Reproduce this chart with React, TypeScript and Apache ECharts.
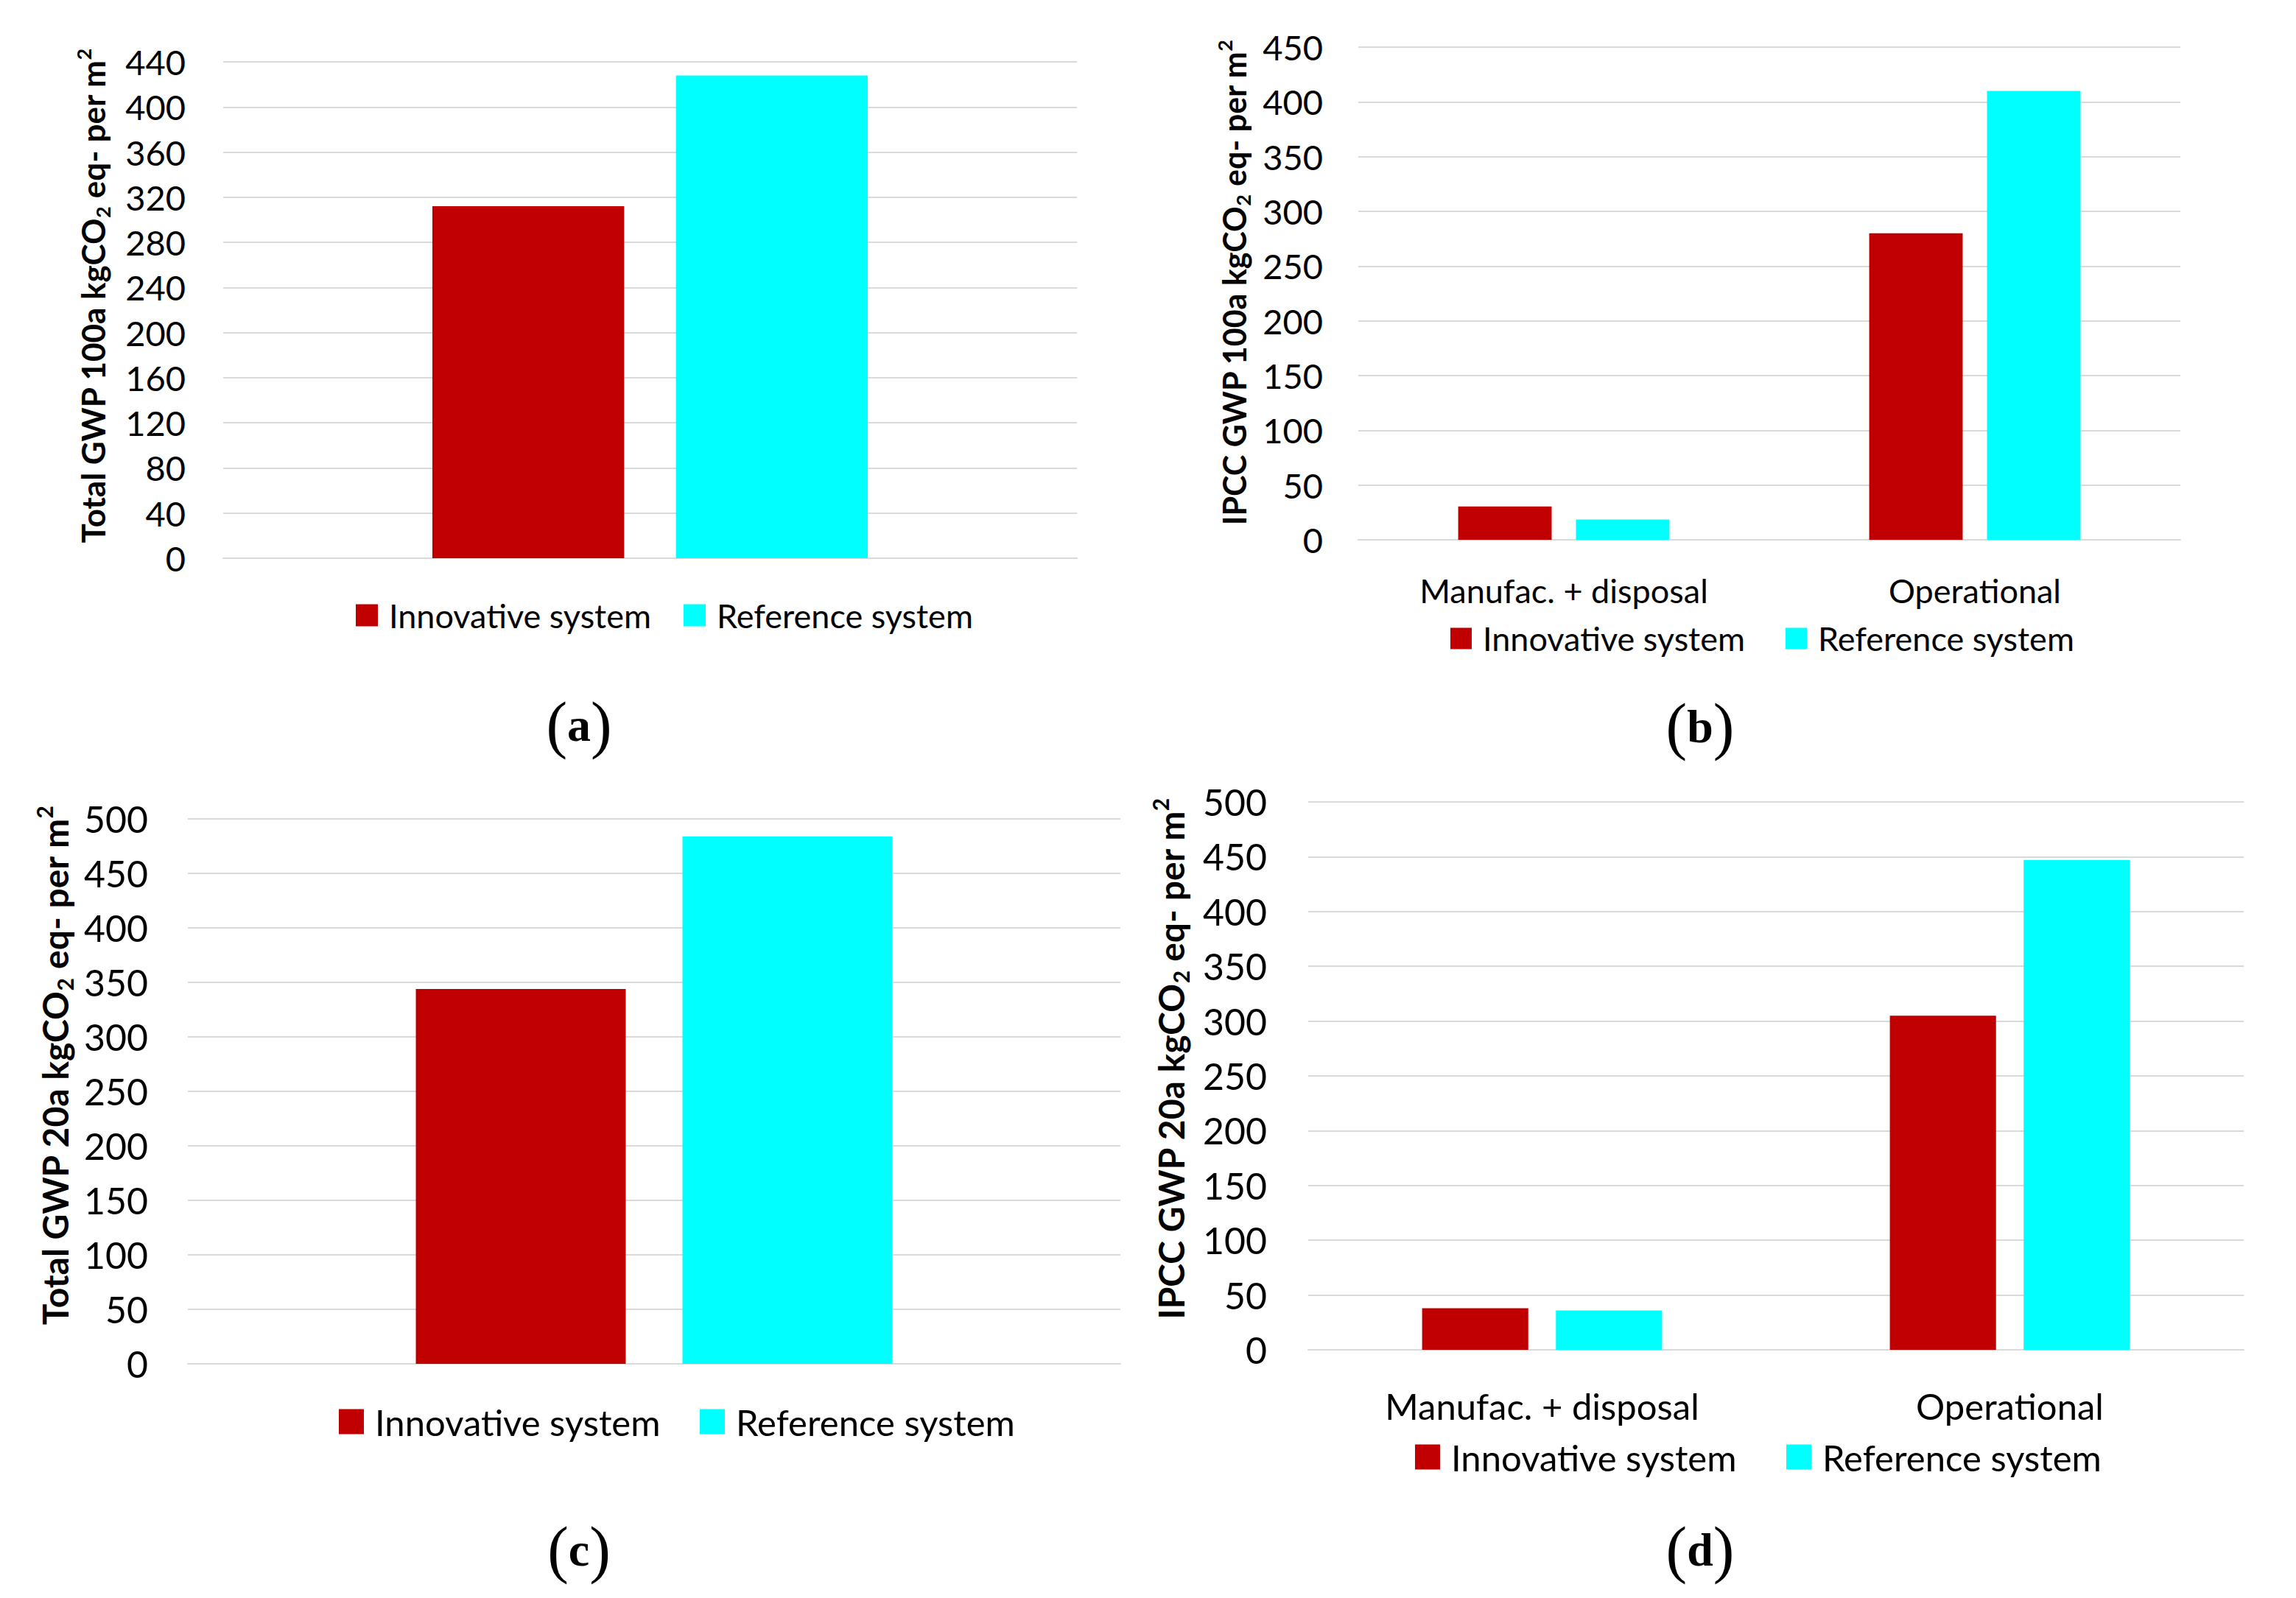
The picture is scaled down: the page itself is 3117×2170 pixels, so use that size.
import React, { useEffect, useRef } from 'react';
import * as echarts from 'echarts';

// ---------- data ----------
const seriesNames = ['Innovative system', 'Reference system'];
const seriesColors = ['#C00000', '#00FFFF'];
const totalCategories = [''];
const stageCategories = ['Manufac. + disposal', 'Operational'];

const totalGwp100Innovative = [312];
const totalGwp100Reference = [428];
const ipccGwp100Innovative = [30.5, 280];
const ipccGwp100Reference = [18.5, 410];
const totalGwp20Innovative = [344];
const totalGwp20Reference = [484];
const ipccGwp20Innovative = [38, 305];
const ipccGwp20Reference = [36, 447];

const axisMax = [440, 450, 500, 500];
const axisInterval = [40, 50, 50, 50];
const titlePrefixes = ['Total GWP 100a', 'IPCC GWP 100a', 'Total GWP 20a', 'IPCC GWP 20a'];
const panelLetters = ['a', 'b', 'c', 'd'];

// ---------- layout ----------
const panels = [
  {
    cats: totalCategories, inno: totalGwp100Innovative, ref: totalGwp100Reference,
    grid: { left: 303, top: 84, width: 1159, height: 674 },
    catGap: '49%', barGap: '27%', tickFont: 47, tickMargin: 51, catFont: 45, catMargin: 46,
    title: { x: 126, y: 402, size: 44 },
    legend: { y: 828, left: [483, 928], icon: 30, font: 45 },
    letter: { x: 786, y: 984 },
  },
  {
    cats: stageCategories, inno: ipccGwp100Innovative, ref: ipccGwp100Reference,
    grid: { left: 1844, top: 64, width: 1116, height: 669 },
    catGap: '48.6%', barGap: '26%', tickFont: 47, tickMargin: 48, catFont: 45, catMargin: 46,
    title: { x: 1675, y: 384, size: 43 },
    legend: { y: 859, left: [1969, 2424], icon: 29, font: 45 },
    letter: { x: 2308, y: 986 },
  },
  {
    cats: totalCategories, inno: totalGwp20Innovative, ref: totalGwp20Reference,
    grid: { left: 255, top: 1112, width: 1266, height: 740 },
    catGap: '48.9%', barGap: '27%', tickFont: 50, tickMargin: 54, catFont: 49, catMargin: 50,
    title: { x: 74, y: 1447, size: 48 },
    legend: { y: 1923, left: [460, 950], icon: 34, font: 49 },
    letter: { x: 786, y: 2104 },
  },
  {
    cats: stageCategories, inno: ipccGwp20Innovative, ref: ipccGwp20Reference,
    grid: { left: 1776, top: 1089, width: 1270, height: 744 },
    catGap: '48.7%', barGap: '26%', tickFont: 50, tickMargin: 56, catFont: 49, catMargin: 51,
    title: { x: 1589, y: 1438, size: 48 },
    legend: { y: 1971, left: [1921, 2425], icon: 34, font: 49 },
    letter: { x: 2308, y: 2104 },
  },
];

const GRID_COLOR = '#d9d9d9';
const SANS = 'Lato, "Open Sans", sans-serif';
const TITLE_FONT = 'Lato, "Open Sans", sans-serif';
const SERIF = '"Liberation Serif", "DejaVu Serif", serif';

export default function App() {
  const ref = useRef<HTMLDivElement>(null);

  useEffect(() => {
    document.body.style.margin = '0';
    document.body.style.overflow = 'hidden';
    const chart = echarts.init(ref.current!, null, { renderer: 'svg' });

    const grids = panels.map((p) => ({ ...p.grid, containLabel: false }));

    const xAxes = panels.map((p, i) => ({
      type: 'category',
      gridIndex: i,
      data: p.cats,
      axisLine: { show: true, lineStyle: { color: GRID_COLOR, width: 2 } },
      axisTick: { show: false },
      axisLabel: {
        show: p.cats.length > 1,
        fontFamily: SANS,
        fontSize: p.catFont,
        lineHeight: p.catFont,
        color: '#000',
        margin: p.catMargin,
        interval: 0,
      },
    }));

    const yAxes = panels.map((p, i) => ({
      type: 'value',
      gridIndex: i,
      min: 0,
      max: axisMax[i],
      interval: axisInterval[i],
      axisLine: { show: false },
      axisTick: { show: false },
      splitLine: { show: true, lineStyle: { color: GRID_COLOR, width: 2 } },
      axisLabel: {
        fontFamily: SANS,
        fontSize: p.tickFont,
        color: '#000',
        margin: p.tickMargin,
      },
    }));

    const series: any[] = [];
    panels.forEach((p, i) => {
      [p.inno, p.ref].forEach((vals, si) => {
        series.push({
          type: 'bar',
          name: seriesNames[si],
          xAxisIndex: i,
          yAxisIndex: i,
          data: vals,
          barCategoryGap: p.catGap,
          barGap: p.barGap,
          itemStyle: { color: seriesColors[si] },
        });
      });
    });

    const legends: any[] = [];
    panels.forEach((p) => {
      seriesNames.forEach((name, si) => {
        legends.push({
          data: [name],
          left: p.legend.left[si],
          top: p.legend.y - p.legend.icon / 2,
          orient: 'horizontal',
          padding: 0,
          icon: 'rect',
          itemWidth: p.legend.icon,
          itemHeight: p.legend.icon,
          selectedMode: false,
          textStyle: {
            fontFamily: SANS,
            fontSize: p.legend.font,
            lineHeight: p.legend.icon,
            color: '#000',
            padding: [0, 0, 0, 10],
          },
        });
      });
    });

    const graphics: any[] = [];
    panels.forEach((p, i) => {
      const s = p.title.size;
      graphics.push({
        type: 'text',
        x: p.title.x,
        y: p.title.y,
        rotation: Math.PI / 2,
        style: {
          text: `{n|${titlePrefixes[i]} kgCO}{sub|2}{n| eq- per m}{sup|2}`,
          align: 'center',
          verticalAlign: 'middle',
          textAlign: 'center',
          textVerticalAlign: 'middle',
          fill: '#000',
          rich: {
            n: { fontFamily: TITLE_FONT, fontWeight: 'bold', fontSize: s, lineHeight: Math.round(s * 1.2), fill: '#000' },
            sub: { fontFamily: TITLE_FONT, fontWeight: 'bold', fontSize: Math.round(s * 0.62), lineHeight: Math.round(s * 0.6), verticalAlign: 'bottom', fill: '#000' },
            sup: { fontFamily: TITLE_FONT, fontWeight: 'bold', fontSize: Math.round(s * 0.62), lineHeight: Math.round(s * 0.6), verticalAlign: 'top', fill: '#000' },
          },
        },
      });
      graphics.push({
        type: 'text',
        x: p.letter.x,
        y: p.letter.y,
        style: {
          text: `{p|(}{l|${panelLetters[i]}}{p|)}`,
          align: 'center',
          verticalAlign: 'middle',
          textAlign: 'center',
          textVerticalAlign: 'middle',
          fill: '#000',
          rich: {
            p: { fontFamily: SERIF, fontSize: 86, lineHeight: 96, fill: '#000' },
            l: { fontFamily: SERIF, fontWeight: 'bold', fontSize: 64, lineHeight: 96, fill: '#000' },
          },
        },
      });
    });

    chart.setOption({
      animation: false,
      backgroundColor: '#ffffff',
      grid: grids,
      xAxis: xAxes,
      yAxis: yAxes,
      legend: legends,
      series,
      graphic: graphics,
    });

    return () => chart.dispose();
  }, []);

  return (
    <div
      ref={ref}
      style={{ position: 'absolute', left: 0, top: 0, width: 3117, height: 2170, background: '#fff' }}
    />
  );
}
